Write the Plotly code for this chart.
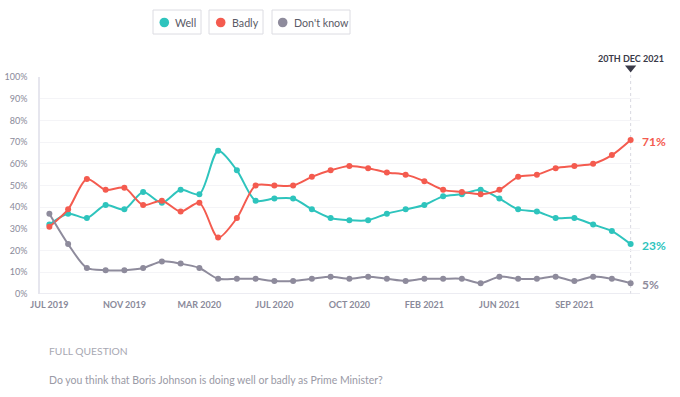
import plotly.graph_objects as go

# ---- data ----
idx = list(range(32))
tick_idx = [0, 4, 8, 12, 16, 20, 24, 28]
tick_labels = ["JUL 2019", "NOV 2019", "MAR 2020", "JUL 2020", "OCT 2020",
               "FEB 2021", "JUN 2021", "SEP 2021"]
well = [32, 37, 35, 41, 39, 47, 42, 48, 46, 66, 57, 43, 44, 44, 39, 35,
        34, 34, 37, 39, 41, 45, 46, 48, 44, 39, 38, 35, 35, 32, 29, 23]
badly = [31, 39, 53, 48, 49, 41, 43, 38, 42, 26, 35, 50, 50, 50, 54, 57,
         59, 58, 56, 55, 52, 48, 47, 46, 48, 54, 55, 58, 59, 60, 64, 71]
dont_know = [37, 23, 12, 11, 11, 12, 15, 14, 12, 7, 7, 7, 6, 6, 7, 8,
             7, 8, 7, 6, 7, 7, 7, 5, 8, 7, 7, 8, 6, 8, 7, 5]
y_ticks = list(range(0, 101, 10))
end_label = "20TH DEC 2021"

C_WELL = "#2ec4bd"
C_BAD = "#f45b4f"
C_DK = "#8e8b9c"

W, H = 680, 397
ML, MR, MT, MB = 40, 40, 77, 103
PW, PH = W - ML - MR, H - MT - MB


def px(x):
    return (x - ML) / PW


def py(y):
    return (H - MB - y) / PH


fig = go.Figure()
for name, vals, col in [("Well", well, C_WELL), ("Badly", badly, C_BAD),
                        ("Don't know", dont_know, C_DK)]:
    fig.add_trace(go.Scatter(
        x=idx, y=vals, name=name, mode="lines+markers",
        line=dict(color=col, width=2, shape="spline", smoothing=0.8),
        marker=dict(color=col, size=6),
        cliponaxis=False, hoverinfo="skip"))

last = idx[-1]
shapes = [dict(type="line", xref="x", yref="paper", x0=last, x1=last,
               y0=0, y1=py(75), line=dict(color="#d8d8e0", width=1, dash="dot"),
               layer="below"),
          dict(type="path", xref="x", yref="paper",
               path="M %.3f,%.4f L %.3f,%.4f L %.3f,%.4f Z" % (
                   last - 0.3, py(65.5), last + 0.3, py(65.5), last, py(72.5)),
               fillcolor="#3a3a48", line=dict(width=0))]

annotations = [dict(x=last, y=py(58), xref="x", yref="paper",
                    text="<b>" + end_label + "</b>", yanchor="middle",
                    showarrow=False, font=dict(size=9, color="#3a3a48"))]

for vals, col in [(badly, C_BAD), (well, C_WELL), (dont_know, C_DK)]:
    ypx = (H - MB) - vals[-1] * PH / 100 + 1.5
    annotations.append(dict(x=last, y=py(ypx), xref="x", yref="paper",
                            text="<b>%d%%</b>" % vals[-1], showarrow=False,
                            xanchor="left", yanchor="middle", xshift=9,
                            font=dict(size=12, color=col)))

# legend boxes
legend_items = [("Well", C_WELL, 153, 201, 164.3, 173),
                ("Badly", C_BAD, 209, 263, 220.7, 230),
                ("Don't know", C_DK, 272, 350, 282.7, 291.5)]
for name, col, x0, x1, cx, tx in legend_items:
    shapes.append(dict(type="rect", xref="paper", yref="paper",
                       x0=px(x0), x1=px(x1), y0=py(34), y1=py(10),
                       line=dict(color="#dcdce2", width=1), fillcolor="white"))
    shapes.append(dict(type="circle", xref="paper", yref="paper",
                       x0=px(cx - 4.8), x1=px(cx + 4.8), y0=py(22.5 + 4.8),
                       y1=py(22.5 - 4.8), line=dict(width=0), fillcolor=col))
    annotations.append(dict(x=px(tx), y=py(22.5), xref="paper", yref="paper",
                            text=name, showarrow=False, xanchor="left",
                            yanchor="middle",
                            font=dict(size=10.7, color="#5a5a66")))

annotations.append(dict(x=px(47), y=py(351), xref="paper", yref="paper",
                        text="FULL QUESTION", showarrow=False, xanchor="left",
                        yanchor="middle", font=dict(size=10.3, color="#a8a8b2")))
annotations.append(dict(x=px(47), y=py(380), xref="paper", yref="paper",
                        text="Do you think that Boris Johnson is doing well or badly as Prime Minister?",
                        showarrow=False, xanchor="left", yanchor="middle",
                        font=dict(size=10.5, color="#9a9aa6")))

fig.update_layout(
    width=W, height=H,
    margin=dict(l=ML, r=MR, t=MT, b=MB, autoexpand=False),
    paper_bgcolor="white", plot_bgcolor="white",
    showlegend=False,
    font=dict(family="Lato, Noto Sans, sans-serif"),
    xaxis=dict(range=[-0.5, 31.5], tickmode="array", tickvals=tick_idx,
               ticktext=["<b>%s</b>" % t for t in tick_labels],
               showgrid=False, zeroline=False, showline=False, automargin=False,
               ticks="", ticklabelstandoff=4,
               tickfont=dict(size=9, color="#8a8a9a")),
    yaxis=dict(range=[0, 100], tickmode="array", tickvals=y_ticks,
               ticktext=["%d%%" % v for v in y_ticks],
               showgrid=True, gridcolor="#f4f4f7", gridwidth=1, automargin=False,
               zeroline=False, showline=True, linecolor="#e6e6ee",
               linewidth=1.5, ticks="", ticklabelstandoff=9,
               tickfont=dict(size=9, color="#8a8a9a")),
    shapes=shapes + [dict(type="line", xref="paper", yref="y", x0=0, x1=1,
                          y0=0, y1=0, line=dict(color="#e6e6ee", width=1.5),
                          layer="below")],
    annotations=annotations,
)

fig.write_html("out.html", config={"displayModeBar": False},
               post_script="document.body.style.margin='0';document.body.style.padding='0';")
